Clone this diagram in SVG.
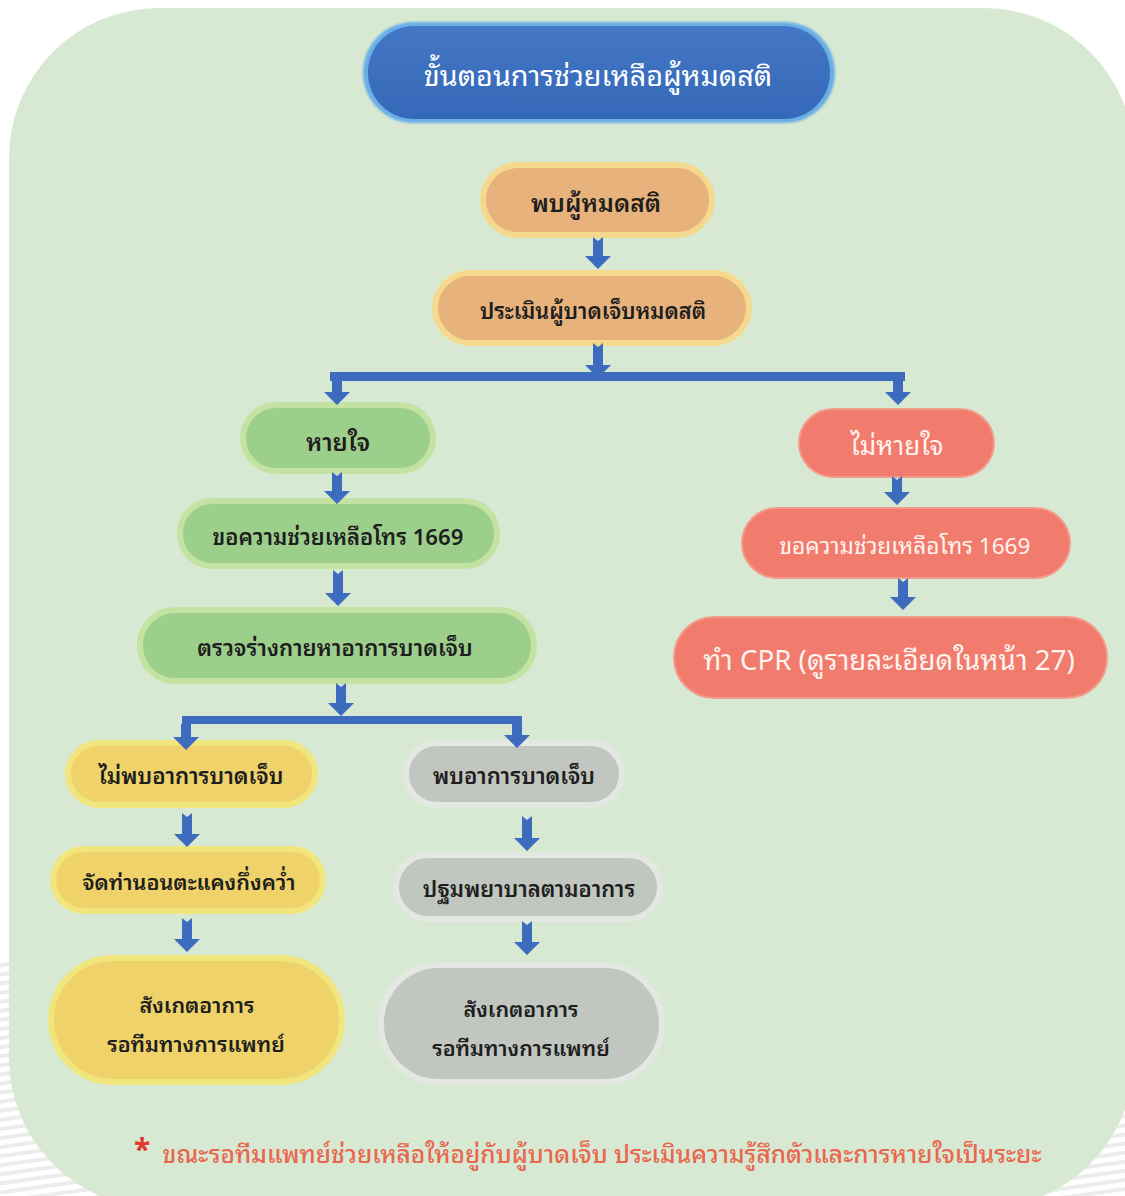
<svg xmlns="http://www.w3.org/2000/svg" width="1125" height="1196" viewBox="0 0 1125 1196">
<defs>
<style>
.t{font-family:"Noto Sans Thai Looped","Noto Serif Thai","Loma","Garuda","Noto Sans Thai","Noto Sans",sans-serif;text-anchor:middle;dominant-baseline:central}
.dk{fill:#1e1e1e;font-weight:600}
.wh{fill:#fff4ef}
.arr{fill:#3d6cbf}
.or{fill:#e8b27c;stroke:#f5d98e;stroke-width:6}
.gr{fill:#9dcf8c;stroke:#c4e3a3;stroke-width:6}
.rd{fill:#f17b6d;stroke:#f39c8c;stroke-width:2}
.yl{fill:#efd36a;stroke:#f1e67e;stroke-width:6}
.gy{fill:#c2c6c0;stroke:#e4e8e2;stroke-width:6}
</style>
<linearGradient id="blue" x1="0" y1="0" x2="0" y2="1">
<stop offset="0" stop-color="#4478c6"/>
<stop offset="1" stop-color="#3468b8"/>
</linearGradient>
<pattern id="stripes" width="20" height="9" patternUnits="userSpaceOnUse" patternTransform="rotate(-8)">
<rect width="20" height="4" fill="#e4e4e4"/>
</pattern>
<filter id="soft" x="-10%" y="-20%" width="120%" height="140%"><feGaussianBlur stdDeviation="1.2"/></filter>
</defs>
<rect x="0" y="960" width="120" height="236" fill="url(#stripes)" opacity="0.7"/>
<rect x="990" y="1060" width="135" height="136" fill="url(#stripes)" opacity="0.7"/>
<rect x="9" y="8" width="1125" height="1200" rx="150" fill="#d8e9d3"/>

<g id="title">
<rect x="363" y="22" width="472" height="101" rx="50" fill="#6aaee6" filter="url(#soft)"/>
<rect x="368" y="26" width="462" height="93" rx="46" fill="url(#blue)"/>
<text class="t" x="598" y="73" font-size="28.8" fill="#ffffff">ขั้นตอนการช่วยเหลือผู้หมดสติ</text>
</g>

<g id="n1"><rect class="or" x="483" y="165" width="229" height="70" rx="35"/><text class="t dk" x="596" y="201" font-size="24.5">พบผู้หมดสติ</text></g>
<g id="n2"><rect class="or" x="435" y="273" width="314" height="70" rx="35"/><text class="t dk" x="593" y="309" font-size="21.7">ประเมินผู้บาดเจ็บหมดสติ</text></g>

<g id="n3"><rect class="gr" x="243" y="405" width="190" height="66" rx="33"/><text class="t dk" x="338" y="440" font-size="24">หายใจ</text></g>
<g id="n4"><rect class="gr" x="180" y="501" width="317" height="65" rx="32"/><text class="t dk" x="338" y="535" font-size="22">ขอความช่วยเหลือโทร 1669</text></g>
<g id="n5"><rect class="gr" x="140" y="610" width="394" height="71" rx="35"/><text class="t dk" x="335" y="646" font-size="22.3">ตรวจร่างกายหาอาการบาดเจ็บ</text></g>

<g id="n6"><rect class="rd" x="799" y="409" width="195" height="68" rx="34"/><text class="t wh" x="897" y="443" font-size="26">ไม่หายใจ</text></g>
<g id="n7"><rect class="rd" x="742" y="508" width="328" height="70" rx="35"/><text class="t wh" x="905" y="544" font-size="22.6">ขอความช่วยเหลือโทร 1669</text></g>
<g id="n8"><rect class="rd" x="674" y="617" width="433" height="81" rx="40"/><text class="t wh" x="889" y="657" font-size="27.7">ทำ CPR (ดูรายละเอียดในหน้า 27)</text></g>

<g id="n9"><rect class="yl" x="68" y="743" width="247" height="62" rx="31"/><text class="t dk" x="191" y="774" font-size="22.3">ไม่พบอาการบาดเจ็บ</text></g>
<g id="n10"><rect class="yl" x="53" y="849" width="270" height="62" rx="31"/><text class="t dk" x="189" y="880" font-size="21.6">จัดท่านอนตะแคงกึ่งคว่ำ</text></g>
<g id="n11"><rect class="yl" x="51" y="958" width="291" height="124" rx="62"/><text class="t dk" x="197" y="1003" font-size="21.5">สังเกตอาการ</text><text class="t dk" x="196" y="1042" font-size="21.5">รอทีมทางการแพทย์</text></g>

<g id="n12"><rect class="gy" x="406" y="743" width="216" height="62" rx="31"/><text class="t dk" x="514" y="774" font-size="22.3">พบอาการบาดเจ็บ</text></g>
<g id="n13"><rect class="gy" x="396" y="855" width="264" height="64" rx="32"/><text class="t dk" x="529" y="887" font-size="22">ปฐมพยาบาลตามอาการ</text></g>
<g id="n14"><rect class="gy" x="381" y="965" width="281" height="117" rx="58"/><text class="t dk" x="521" y="1007" font-size="21.5">สังเกตอาการ</text><text class="t dk" x="521" y="1046" font-size="21.5">รอทีมทางการแพทย์</text></g>

<g id="connectors">
<path class="arr" d="M593,237 L598,241 L603,237 L603,256 L611,256 L598,269 L585,256 L593,256 Z"/>
<path class="arr" d="M593,343 L598,347 L603,343 L603,365 L611,365 L598,378 L585,365 L593,365 Z"/>
<path class="arr" d="M330,372 L905,372 L905,381 L903,381 L903,392 L911,392 L898,405 L885,392 L893,392 L893,381 L342,381 L342,392 L350,392 L337,405 L324,392 L332,392 L332,381 L330,381 Z"/>
<path class="arr" d="M332,472 L337,476 L342,472 L342,491 L350,491 L337,504 L324,491 L332,491 Z"/>
<path class="arr" d="M333,570 L338,574 L343,570 L343,593 L351,593 L338,606 L325,593 L333,593 Z"/>
<path class="arr" d="M336,683 L341,687 L346,683 L346,703 L354,703 L341,716 L328,703 L336,703 Z"/>
<path class="arr" d="M182,716 L522,716 L522,724 L522,724 L522,735 L530,735 L517,748 L504,735 L512,735 L512,724 L191,724 L191,737 L199,737 L186,750 L173,737 L181,737 L181,724 L182,724 Z"/>
<path class="arr" d="M892,476 L897,480 L902,476 L902,492 L910,492 L897,505 L884,492 L892,492 Z"/>
<path class="arr" d="M898,578 L903,582 L908,578 L908,597 L916,597 L903,610 L890,597 L898,597 Z"/>
<path class="arr" d="M182,813 L187,817 L192,813 L192,834 L200,834 L187,847 L174,834 L182,834 Z"/>
<path class="arr" d="M182,918 L187,922 L192,918 L192,939 L200,939 L187,952 L174,939 L182,939 Z"/>
<path class="arr" d="M522,816 L527,820 L532,816 L532,838 L540,838 L527,851 L514,838 L522,838 Z"/>
<path class="arr" d="M522,921 L527,925 L532,921 L532,942 L540,942 L527,955 L514,942 L522,942 Z"/>
</g>

<g id="note">
<text x="134" y="1160" font-family="Noto Sans, DejaVu Sans, sans-serif" font-size="30" font-weight="bold" fill="#e2382b">*</text>
<text class="t" x="602" y="1152" font-size="24.5" fill="#e8674f" font-weight="500">ขณะรอทีมแพทย์ช่วยเหลือให้อยู่กับผู้บาดเจ็บ ประเมินความรู้สึกตัวและการหายใจเป็นระยะ</text>
</g>
</svg>
